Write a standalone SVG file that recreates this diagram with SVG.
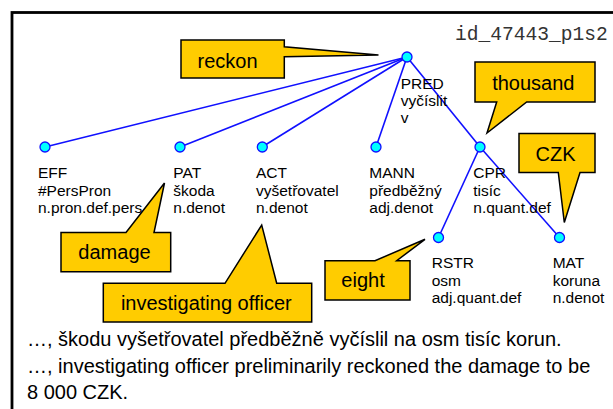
<svg xmlns="http://www.w3.org/2000/svg" width="613" height="409" viewBox="0 0 613 409">
<style>
.edge{stroke:#1010ff;stroke-width:1.6;fill:none}
.node{fill:#00ffff;stroke:#1010ff;stroke-width:1.3}
.lbl{font-family:"Liberation Sans",Arial,sans-serif;font-size:15.5px;fill:#000}
.call{fill:#ffcc00;stroke:#000;stroke-width:1.5;stroke-linejoin:miter}
.ct{font-family:"Liberation Sans",Arial,sans-serif;font-size:20px;fill:#000;text-anchor:middle}
.sent{font-family:"Liberation Sans",Arial,sans-serif;font-size:20px;fill:#000}
</style>
<rect x="0" y="0" width="613" height="409" fill="#fff"/>
<rect x="12" y="12.5" width="640" height="440" fill="none" stroke="#000" stroke-width="2.8"/>
<text x="455" y="40" font-family="'Liberation Mono','Courier New',monospace" font-size="19.6" fill="#333">id_47443_p1s2</text>
<g id="connectors">
<line class="edge" x1="407" y1="57" x2="45" y2="147"/>
<line class="edge" x1="407" y1="57" x2="180" y2="147"/>
<line class="edge" x1="407" y1="57" x2="262" y2="147"/>
<line class="edge" x1="407" y1="57" x2="376" y2="147"/>
<line class="edge" x1="407" y1="57" x2="480" y2="147"/>
<line class="edge" x1="480" y1="147" x2="438.5" y2="237.5"/>
<line class="edge" x1="480" y1="147" x2="559.5" y2="237.5"/>
</g>
<g id="n-pred"><circle class="node" cx="407" cy="57" r="5"/>
<text class="lbl" x="400.7" y="89.3">PRED</text><text class="lbl" x="400.7" y="106.3">vyčíslit</text><text class="lbl" x="400.7" y="123.3">v</text></g>
<g id="n-eff"><circle class="node" cx="45" cy="147" r="5"/>
<text class="lbl" x="38" y="178.3">EFF</text><text class="lbl" x="38" y="195.5">#PersPron</text><text class="lbl" x="38" y="212.7">n.pron.def.pers</text></g>
<g id="n-pat"><circle class="node" cx="180" cy="147" r="5"/>
<text class="lbl" x="173.3" y="178.3">PAT</text><text class="lbl" x="173.3" y="195.5">škoda</text><text class="lbl" x="173.3" y="212.7">n.denot</text></g>
<g id="n-act"><circle class="node" cx="262.3" cy="147" r="5"/>
<text class="lbl" x="256" y="178.3">ACT</text><text class="lbl" x="256" y="195.5">vyšetřovatel</text><text class="lbl" x="256" y="212.7">n.denot</text></g>
<g id="n-mann"><circle class="node" cx="376" cy="147" r="5"/>
<text class="lbl" x="369.3" y="178.3">MANN</text><text class="lbl" x="369.3" y="195.5">předběžný</text><text class="lbl" x="369.3" y="212.7">adj.denot</text></g>
<g id="n-cpr"><circle class="node" cx="480" cy="147" r="5"/>
<text class="lbl" x="473.3" y="178.3">CPR</text><text class="lbl" x="473.3" y="195.5">tisíc</text><text class="lbl" x="473.3" y="212.7">n.quant.def</text></g>
<g id="n-rstr"><circle class="node" cx="438.5" cy="237.5" r="5"/>
<text class="lbl" x="431.7" y="268.3">RSTR</text><text class="lbl" x="431.7" y="285.5">osm</text><text class="lbl" x="431.7" y="302.7">adj.quant.def</text></g>
<g id="n-mat"><circle class="node" cx="559.5" cy="237.5" r="5"/>
<text class="lbl" x="552.7" y="268.3">MAT</text><text class="lbl" x="552.7" y="285.5">koruna</text><text class="lbl" x="552.7" y="302.7">n.denot</text></g>
<g id="c-reckon"><path class="call" d="M181,40 H284.3 V46.7 L378.5,55 L284.3,56.7 V78 H181 Z"/><text class="ct" x="227.5" y="68.3">reckon</text></g>
<g id="c-thousand"><path class="call" d="M475,62 H595 V102 H526.7 L487,133 L496.7,102 H475 Z"/><text class="ct" x="533.3" y="90">thousand</text></g>
<g id="c-czk"><path class="call" d="M519,133.5 H595 V172.5 H580 L564.3,222.5 L558.3,172.5 H519 Z"/><text class="ct" x="555.5" y="160.7">CZK</text></g>
<g id="c-damage"><path class="call" d="M61,232.5 H126 L164.5,183 L154,232.5 H170.7 V271.7 H61 Z"/><text class="ct" x="114.5" y="259.3">damage</text></g>
<g id="c-officer"><path class="call" d="M103.3,283.3 H225 L261.7,225 L276.7,283.3 H311.7 V322 H103.3 Z"/><text class="ct" x="206.3" y="310">investigating officer</text></g>
<g id="c-eight"><path class="call" d="M325,260.7 H375 L425,239.3 L396.7,260.7 H410 V300 H325 Z"/><text class="ct" x="363" y="286.7">eight</text></g>
<text class="sent" x="27" y="346">…, škodu vyšetřovatel předběžně vyčíslil na osm tisíc korun.</text>
<text class="sent" x="27" y="373">…, investigating officer preliminarily reckoned the damage to be</text>
<text class="sent" x="27" y="399">8 000 CZK.</text>
</svg>
